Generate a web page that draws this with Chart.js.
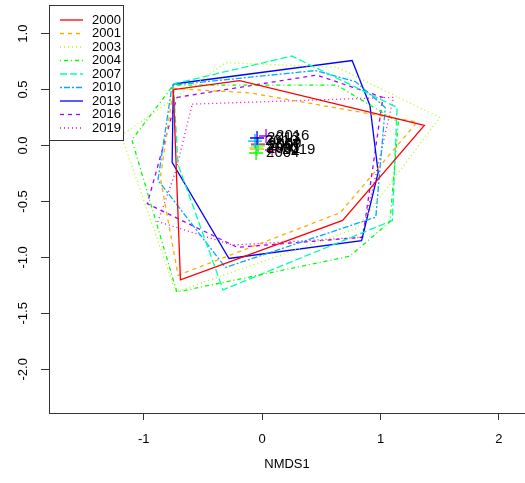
<!DOCTYPE html>
<html>
<head>
<meta charset="utf-8">
<script src="https://cdn.jsdelivr.net/npm/chart.js@4"></script>
<style>
  html, body { margin: 0; padding: 0; background: #fff; overflow: hidden; }
  #wrap { width: 525px; height: 483px; }
</style>
</head>
<body>
<div id="wrap"><canvas id="nmdsChart" width="525" height="483"></canvas></div>
<script>
// years and colours (rainbow(9) in the original R plot)
const years = ['2000', '2001', '2003', '2004', '2007', '2010', '2013', '2016', '2019'];
const colors = ['#FF0000', '#FFAA00', '#AAFF00', '#00FF00', '#00FFAA', '#00AAFF', '#0000FF', '#AA00FF', '#FF00AA'];
const dashes = [[], [4, 4], [1, 3], [1, 3, 4, 3], [7, 3], [2, 2, 6, 2], [], [4, 4], [1, 3]];

// convex hull vertices per year, [NMDS1, NMDS2]
const hull2000 = [[-0.75, 0.50], [-0.19, 0.58], [1.37, 0.18], [0.68, -0.67], [-0.69, -1.20]];
const hull2001 = [[-0.75, 0.51], [-0.10, 0.47], [1.31, 0.21], [0.66, -0.60], [-0.71, -1.16], [-0.86, -0.29]];
const hull2003 = [[-1.19, 0.09], [-0.31, 0.74], [0.63, 0.70], [1.50, 0.25], [0.80, -0.74], [-0.73, -1.31]];
const hull2004 = [[-0.75, 0.54], [0.63, 0.54], [1.15, 0.21], [1.08, -0.68], [0.74, -0.99], [-0.72, -1.31], [-1.10, 0.05]];
const hull2007 = [[-0.75, 0.55], [0.25, 0.80], [1.14, 0.34], [1.10, -0.67], [-0.33, -1.29], [-0.71, -0.17]];
const hull2010 = [[-0.76, 0.54], [0.45, 0.67], [0.79, 0.57], [1.04, 0.34], [0.96, -0.64], [-0.31, -1.09], [-0.88, -0.31]];
const hull2013 = [[-0.75, 0.55], [0.76, 0.76], [0.91, 0.36], [0.98, -0.24], [0.84, -0.85], [-0.28, -1.01], [-0.76, -0.15]];
const hull2016 = [[-0.72, 0.43], [0.46, 0.63], [1.02, 0.43], [0.85, -0.82], [-0.21, -0.91], [-0.97, -0.52]];
const hull2019 = [[-0.59, 0.37], [1.11, 0.43], [0.84, -0.82], [-0.25, -0.89], [-0.88, -0.68], [-0.73, -0.23]];
const hulls = [hull2000, hull2001, hull2003, hull2004, hull2007, hull2010, hull2013, hull2016, hull2019];

// group centroids
const centroidX = [-0.035, -0.043, -0.051, -0.051, -0.035, -0.060, -0.043, 0.033, 0.084];
const centroidY = [0.013, -0.031, -0.022, -0.067, -0.004, 0.040, 0.067, 0.085, -0.040];

// axis ticks
const xTicks = [-1, 0, 1, 2];
const yTicks = [1.0, 0.5, 0.0, -0.5, -1.0, -1.5, -2.0];

const FONT = 'Arial, "Liberation Sans", sans-serif';

const hullSets = years.map((y, i) => {
    const pts = hulls[i].map(p => ({ x: p[0], y: p[1] }));
    pts.push(pts[0]);
    return {
        label: y,
        data: pts,
        showLine: true,
        borderColor: colors[i],
        borderDash: dashes[i],
        borderWidth: 1.3,
        pointRadius: 0,
        fill: false,
        tension: 0
    };
});

const centroidSet = {
    label: 'centroids',
    data: centroidX.map((x, i) => ({ x: x, y: centroidY[i] })),
    pointStyle: 'cross',
    pointRadius: 7,
    pointBorderWidth: 1.3,
    pointBorderColor: colors,
    showLine: false
};

// rotated y tick labels, centroid labels and the boxed legend
const extras = {
    id: 'extras',
    afterDraw(chart) {
        const ctx = chart.ctx;
        const ys = chart.scales.y;
        const xs = chart.scales.x;
        ctx.save();
        ctx.fillStyle = '#000';
        ctx.font = '13px ' + FONT;
        ctx.textAlign = 'center';
        ctx.textBaseline = 'middle';
        yTicks.forEach(v => {
            ctx.save();
            ctx.translate(23, ys.getPixelForValue(v));
            ctx.rotate(-Math.PI / 2);
            ctx.fillText(v.toFixed(1), 0, 0);
            ctx.restore();
        });

        ctx.font = '15px ' + FONT;
        ctx.textAlign = 'left';
        years.forEach((y, i) => {
            ctx.fillText(y, xs.getPixelForValue(centroidX[i]) + 10, ys.getPixelForValue(centroidY[i]));
        });

        const area = chart.chartArea;
        const bx = area.left, by = area.top, bw = 74, bh = 135;
        ctx.fillStyle = '#fff';
        ctx.fillRect(bx, by, bw, bh);
        ctx.strokeStyle = '#333';
        ctx.lineWidth = 1;
        ctx.strokeRect(bx + 0.5, by + 0.5, bw, bh);
        ctx.font = '13px ' + FONT;
        ctx.textBaseline = 'middle';
        years.forEach((y, i) => {
            const ly = by + 15 + i * 13.5;
            ctx.strokeStyle = colors[i];
            ctx.lineWidth = 1.3;
            ctx.setLineDash(dashes[i]);
            ctx.beginPath();
            ctx.moveTo(bx + 11, ly);
            ctx.lineTo(bx + 34, ly);
            ctx.stroke();
            ctx.setLineDash([]);
            ctx.fillStyle = '#000';
            ctx.fillText(y, bx + 43, ly);
        });
        ctx.restore();
    }
};

new Chart(document.getElementById('nmdsChart'), {
    type: 'scatter',
    data: { datasets: hullSets.concat([centroidSet]) },
    options: {
        responsive: false,
        animation: false,
        devicePixelRatio: 1,
        layout: { autoPadding: false, padding: { top: 5, right: 0, left: 0, bottom: 0 } },
        plugins: { legend: { display: false }, tooltip: { enabled: false } },
        scales: {
            x: {
                type: 'linear',
                min: -1.80,
                max: 2.22,
                afterFit: s => { s.height = 70; },
                afterBuildTicks: s => { s.ticks = xTicks.map(v => ({ value: v })); },
                grid: { display: true, drawOnChartArea: false, drawTicks: true, tickLength: 7, color: '#333' },
                border: { display: true, color: '#333', width: 1 },
                ticks: { color: '#000', font: { size: 13, family: FONT }, padding: 12, maxRotation: 0 },
                title: { display: true, text: 'NMDS1', color: '#000', font: { size: 13, family: FONT }, padding: { top: 4, bottom: 11 } }
            },
            y: {
                type: 'linear',
                min: -2.391,
                max: 1.256,
                afterFit: s => { s.width = 49; },
                afterBuildTicks: s => { s.ticks = yTicks.map(v => ({ value: v })); },
                grid: { display: true, drawOnChartArea: false, drawTicks: true, tickLength: 8, color: '#333' },
                border: { display: true, color: '#333', width: 1 },
                ticks: { display: false }
            }
        }
    },
    plugins: [extras]
});
</script>
</body>
</html>
